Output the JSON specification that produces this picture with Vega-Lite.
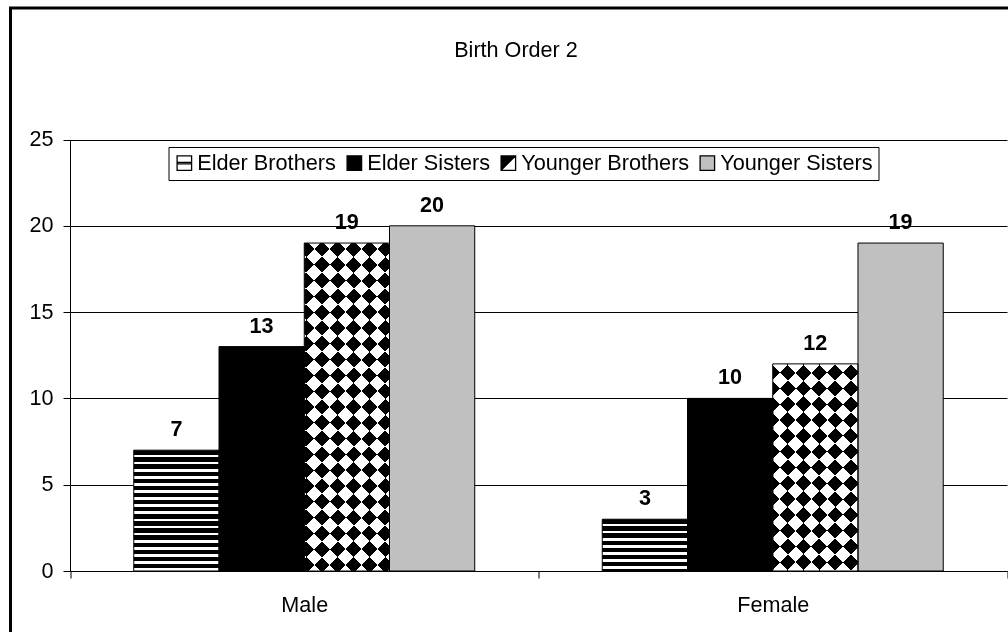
{
  "$schema": "https://vega.github.io/schema/vega-lite/v6.json",
  "width": 999,
  "height": 626,
  "autosize": {"type": "none"},
  "padding": {"left": 10.5, "top": 8, "right": -1.5, "bottom": -2},
  "background": "white",
  "view": {"stroke": "#000000", "strokeWidth": 3, "fill": "white"},
  "title": {
    "text": "Birth Order 2",
    "font": "Liberation Sans",
    "fontSize": 21.6,
    "fontWeight": "normal",
    "color": "#000000",
    "anchor": "middle",
    "frame": "group",
    "baseline": "alphabetic",
    "offset": -70.5,
    "dx": 6
  },
  "config": {
    "legend": {
      "orient": "none",
      "legendX": 158,
      "legendY": 139,
      "direction": "horizontal",
      "symbolSize": 210,
      "symbolStrokeColor": "#000000",
      "symbolStrokeWidth": 1.3,
      "symbolOpacity": 1,
      "labelFont": "Liberation Sans",
      "labelFontSize": 21.7,
      "labelColor": "#000000",
      "labelOffset": 2,
      "labelLimit": 400,
      "columnPadding": 7,
      "padding": 5,
      "strokeColor": "#000000",
      "fillColor": "white"
    }
  },
  "data": {
    "values": [
      {"gender": "Male", "series": "Elder Brothers", "count": 7},
      {"gender": "Male", "series": "Elder Sisters", "count": 13},
      {"gender": "Male", "series": "Younger Brothers", "count": 19},
      {"gender": "Male", "series": "Younger Sisters", "count": 20},
      {"gender": "Female", "series": "Elder Brothers", "count": 3},
      {"gender": "Female", "series": "Elder Sisters", "count": 10},
      {"gender": "Female", "series": "Younger Brothers", "count": 12},
      {"gender": "Female", "series": "Younger Sisters", "count": 19}
    ]
  },
  "encoding": {
    "x": {
      "field": "gender",
      "type": "nominal",
      "sort": ["Male", "Female"],
      "title": null,
      "scale": {"range": [59.5, 996.5], "paddingInner": 0, "paddingOuter": 0},
      "axis": {
        "offset": -63,
        "tickBand": "extent",
        "grid": false,
        "domainColor": "#000000",
        "tickColor": "#000000",
        "tickSize": 7,
        "labelPadding": 16,
        "labelAngle": 0,
        "labelFont": "Liberation Sans",
        "labelFontSize": 21.6,
        "labelColor": "#000000",
        "zindex": 0
      }
    },
    "xOffset": {
      "field": "series",
      "type": "nominal",
      "sort": ["Elder Brothers", "Elder Sisters", "Younger Brothers", "Younger Sisters"],
      "scale": {
        "domain": ["Elder Brothers", "Elder Sisters", "Younger Brothers", "Younger Sisters"],
        "paddingInner": 0,
        "paddingOuter": 0.748
      }
    },
    "y": {
      "field": "count",
      "type": "quantitative",
      "title": null,
      "scale": {"domain": [0, 25], "range": [563, 131.5], "nice": false, "zero": true},
      "axis": {
        "values": [0, 5, 10, 15, 20, 25],
        "offset": -59.5,
        "grid": true,
        "gridColor": "#000000",
        "gridWidth": 1,
        "domainColor": "#000000",
        "tickColor": "#000000",
        "tickSize": 7,
        "labelPadding": 10,
        "labelFont": "Liberation Sans",
        "labelFontSize": 21.6,
        "labelColor": "#000000",
        "zindex": 0
      }
    },
    "color": {
      "field": "series",
      "type": "nominal",
      "title": null,
      "scale": {
        "domain": ["Elder Brothers", "Elder Sisters", "Younger Brothers", "Younger Sisters"],
        "range": ["#ffffff", "#000000", "#ffffff", "#c0c0c0"]
      },
      "legend": {
        "encode": {
          "symbols": {
            "update": {
              "stroke": {"value": "#000000"},
              "strokeWidth": {"value": 1.3}
            }
          }
        }
      }
    }
  },
  "layer": [
    {
      "mark": {"type": "bar", "strokeWidth": 0}
    },
    {
      "mark": {"type": "point", "filled": true, "size": 0},
      "encoding": {
        "shape": {
          "field": "series",
          "type": "nominal",
          "title": null,
          "scale": {
            "domain": ["Elder Brothers", "Elder Sisters", "Younger Brothers", "Younger Sisters"],
            "range": [
              "M-1,-1H1V1H-1Z M-1,-0.1H1V0.1H-1Z",
              "square",
              "M-1,-1H1V1H-1Z M-1,1L1,-1 M-1,0.75L0.75,-1 M-1,0.5L0.5,-1 M-1,0.25L0.25,-1 M-1,0L0,-1 M-1,-0.25L-0.25,-1 M-1,-0.5L-0.5,-1 M-1,-0.75L-0.75,-1",
              "square"
            ]
          },
          "legend": {
            "encode": {
              "symbols": {
                "update": {
                  "stroke": {"value": "#000000"},
                  "strokeWidth": {"value": 1.3}
                }
              }
            }
          }
        }
      }
    },
    {
      "transform": [{"filter": "datum.series === 'Elder Brothers' && datum.gender === 'Male'"}],
      "mark": {"type": "bar", "strokeWidth": 0, "fill": {"gradient": "linear", "x1": 0, "y1": 0, "x2": 0, "y2": 1, "stops": [
        {"offset": 0, "color": "#000000"}, {"offset": 0.03647, "color": "#000000"}, {"offset": 0.03647, "color": "#ffffff"}, {"offset": 0.05882, "color": "#ffffff"},
        {"offset": 0.05882, "color": "#000000"}, {"offset": 0.09529, "color": "#000000"}, {"offset": 0.09529, "color": "#ffffff"}, {"offset": 0.11765, "color": "#ffffff"},
        {"offset": 0.11765, "color": "#000000"}, {"offset": 0.15412, "color": "#000000"}, {"offset": 0.15412, "color": "#ffffff"}, {"offset": 0.17647, "color": "#ffffff"},
        {"offset": 0.17647, "color": "#000000"}, {"offset": 0.21294, "color": "#000000"}, {"offset": 0.21294, "color": "#ffffff"}, {"offset": 0.23529, "color": "#ffffff"},
        {"offset": 0.23529, "color": "#000000"}, {"offset": 0.27176, "color": "#000000"}, {"offset": 0.27176, "color": "#ffffff"}, {"offset": 0.29412, "color": "#ffffff"},
        {"offset": 0.29412, "color": "#000000"}, {"offset": 0.33059, "color": "#000000"}, {"offset": 0.33059, "color": "#ffffff"}, {"offset": 0.35294, "color": "#ffffff"},
        {"offset": 0.35294, "color": "#000000"}, {"offset": 0.38941, "color": "#000000"}, {"offset": 0.38941, "color": "#ffffff"}, {"offset": 0.41176, "color": "#ffffff"},
        {"offset": 0.41176, "color": "#000000"}, {"offset": 0.44824, "color": "#000000"}, {"offset": 0.44824, "color": "#ffffff"}, {"offset": 0.47059, "color": "#ffffff"},
        {"offset": 0.47059, "color": "#000000"}, {"offset": 0.50706, "color": "#000000"}, {"offset": 0.50706, "color": "#ffffff"}, {"offset": 0.52941, "color": "#ffffff"},
        {"offset": 0.52941, "color": "#000000"}, {"offset": 0.56588, "color": "#000000"}, {"offset": 0.56588, "color": "#ffffff"}, {"offset": 0.58824, "color": "#ffffff"},
        {"offset": 0.58824, "color": "#000000"}, {"offset": 0.62471, "color": "#000000"}, {"offset": 0.62471, "color": "#ffffff"}, {"offset": 0.64706, "color": "#ffffff"},
        {"offset": 0.64706, "color": "#000000"}, {"offset": 0.68353, "color": "#000000"}, {"offset": 0.68353, "color": "#ffffff"}, {"offset": 0.70588, "color": "#ffffff"},
        {"offset": 0.70588, "color": "#000000"}, {"offset": 0.74235, "color": "#000000"}, {"offset": 0.74235, "color": "#ffffff"}, {"offset": 0.76471, "color": "#ffffff"},
        {"offset": 0.76471, "color": "#000000"}, {"offset": 0.80118, "color": "#000000"}, {"offset": 0.80118, "color": "#ffffff"}, {"offset": 0.82353, "color": "#ffffff"},
        {"offset": 0.82353, "color": "#000000"}, {"offset": 0.86, "color": "#000000"}, {"offset": 0.86, "color": "#ffffff"}, {"offset": 0.88235, "color": "#ffffff"},
        {"offset": 0.88235, "color": "#000000"}, {"offset": 0.91882, "color": "#000000"}, {"offset": 0.91882, "color": "#ffffff"}, {"offset": 0.94118, "color": "#ffffff"},
        {"offset": 0.94118, "color": "#000000"}, {"offset": 0.97765, "color": "#000000"}, {"offset": 0.97765, "color": "#ffffff"}, {"offset": 1, "color": "#ffffff"}
      ]}}
    },
    {
      "transform": [{"filter": "datum.series === 'Elder Brothers' && datum.gender === 'Female'"}],
      "mark": {"type": "bar", "strokeWidth": 0, "fill": {"gradient": "linear", "x1": 0, "y1": 0, "x2": 0, "y2": 1.0965, "stops": [
        {"offset": 0, "color": "#000000"}, {"offset": 0.0775, "color": "#000000"}, {"offset": 0.0775, "color": "#ffffff"}, {"offset": 0.125, "color": "#ffffff"},
        {"offset": 0.125, "color": "#000000"}, {"offset": 0.2025, "color": "#000000"}, {"offset": 0.2025, "color": "#ffffff"}, {"offset": 0.25, "color": "#ffffff"},
        {"offset": 0.25, "color": "#000000"}, {"offset": 0.3275, "color": "#000000"}, {"offset": 0.3275, "color": "#ffffff"}, {"offset": 0.375, "color": "#ffffff"},
        {"offset": 0.375, "color": "#000000"}, {"offset": 0.4525, "color": "#000000"}, {"offset": 0.4525, "color": "#ffffff"}, {"offset": 0.5, "color": "#ffffff"},
        {"offset": 0.5, "color": "#000000"}, {"offset": 0.5775, "color": "#000000"}, {"offset": 0.5775, "color": "#ffffff"}, {"offset": 0.625, "color": "#ffffff"},
        {"offset": 0.625, "color": "#000000"}, {"offset": 0.7025, "color": "#000000"}, {"offset": 0.7025, "color": "#ffffff"}, {"offset": 0.75, "color": "#ffffff"},
        {"offset": 0.75, "color": "#000000"}, {"offset": 0.8275, "color": "#000000"}, {"offset": 0.8275, "color": "#ffffff"}, {"offset": 0.875, "color": "#ffffff"},
        {"offset": 0.875, "color": "#000000"}, {"offset": 0.9525, "color": "#000000"}, {"offset": 0.9525, "color": "#ffffff"}, {"offset": 1, "color": "#ffffff"}
      ]}}
    },
    {
      "transform": [{"filter": "datum.series === 'Younger Brothers' && datum.gender === 'Male'"}],
      "mark": {"type": "bar", "strokeWidth": 0, "fill": {"gradient": "linear", "x1": 0, "y1": 0, "x2": 0.31683, "y2": 1.21864, "stops": [
        {"offset": 0, "color": "#000000"}, {"offset": 0.037037, "color": "#000000"}, {"offset": 0.037037, "color": "#ffffff"}, {"offset": 0.074074, "color": "#ffffff"},
        {"offset": 0.074074, "color": "#000000"}, {"offset": 0.111111, "color": "#000000"}, {"offset": 0.111111, "color": "#ffffff"}, {"offset": 0.148148, "color": "#ffffff"},
        {"offset": 0.148148, "color": "#000000"}, {"offset": 0.185185, "color": "#000000"}, {"offset": 0.185185, "color": "#ffffff"}, {"offset": 0.222222, "color": "#ffffff"},
        {"offset": 0.222222, "color": "#000000"}, {"offset": 0.259259, "color": "#000000"}, {"offset": 0.259259, "color": "#ffffff"}, {"offset": 0.296296, "color": "#ffffff"},
        {"offset": 0.296296, "color": "#000000"}, {"offset": 0.333333, "color": "#000000"}, {"offset": 0.333333, "color": "#ffffff"}, {"offset": 0.37037, "color": "#ffffff"},
        {"offset": 0.37037, "color": "#000000"}, {"offset": 0.407407, "color": "#000000"}, {"offset": 0.407407, "color": "#ffffff"}, {"offset": 0.444444, "color": "#ffffff"},
        {"offset": 0.444444, "color": "#000000"}, {"offset": 0.481481, "color": "#000000"}, {"offset": 0.481481, "color": "#ffffff"}, {"offset": 0.518519, "color": "#ffffff"},
        {"offset": 0.518519, "color": "#000000"}, {"offset": 0.555556, "color": "#000000"}, {"offset": 0.555556, "color": "#ffffff"}, {"offset": 0.592593, "color": "#ffffff"},
        {"offset": 0.592593, "color": "#000000"}, {"offset": 0.62963, "color": "#000000"}, {"offset": 0.62963, "color": "#ffffff"}, {"offset": 0.666667, "color": "#ffffff"},
        {"offset": 0.666667, "color": "#000000"}, {"offset": 0.703704, "color": "#000000"}, {"offset": 0.703704, "color": "#ffffff"}, {"offset": 0.740741, "color": "#ffffff"},
        {"offset": 0.740741, "color": "#000000"}, {"offset": 0.777778, "color": "#000000"}, {"offset": 0.777778, "color": "#ffffff"}, {"offset": 0.814815, "color": "#ffffff"},
        {"offset": 0.814815, "color": "#000000"}, {"offset": 0.851852, "color": "#000000"}, {"offset": 0.851852, "color": "#ffffff"}, {"offset": 0.888889, "color": "#ffffff"},
        {"offset": 0.888889, "color": "#000000"}, {"offset": 0.925926, "color": "#000000"}, {"offset": 0.925926, "color": "#ffffff"}, {"offset": 0.962963, "color": "#ffffff"},
        {"offset": 0.962963, "color": "#000000"}, {"offset": 1, "color": "#000000"}
      ]}}
    },
    {
      "transform": [{"filter": "datum.series === 'Younger Brothers' && datum.gender === 'Male'"}],
      "mark": {"type": "bar", "strokeWidth": 0, "blend": "difference", "fill": {"gradient": "linear", "x1": 0, "y1": 1, "x2": 0.31683, "y2": -0.21864, "stops": [
        {"offset": 0, "color": "#000000"}, {"offset": 0.037037, "color": "#000000"}, {"offset": 0.037037, "color": "#ffffff"}, {"offset": 0.074074, "color": "#ffffff"},
        {"offset": 0.074074, "color": "#000000"}, {"offset": 0.111111, "color": "#000000"}, {"offset": 0.111111, "color": "#ffffff"}, {"offset": 0.148148, "color": "#ffffff"},
        {"offset": 0.148148, "color": "#000000"}, {"offset": 0.185185, "color": "#000000"}, {"offset": 0.185185, "color": "#ffffff"}, {"offset": 0.222222, "color": "#ffffff"},
        {"offset": 0.222222, "color": "#000000"}, {"offset": 0.259259, "color": "#000000"}, {"offset": 0.259259, "color": "#ffffff"}, {"offset": 0.296296, "color": "#ffffff"},
        {"offset": 0.296296, "color": "#000000"}, {"offset": 0.333333, "color": "#000000"}, {"offset": 0.333333, "color": "#ffffff"}, {"offset": 0.37037, "color": "#ffffff"},
        {"offset": 0.37037, "color": "#000000"}, {"offset": 0.407407, "color": "#000000"}, {"offset": 0.407407, "color": "#ffffff"}, {"offset": 0.444444, "color": "#ffffff"},
        {"offset": 0.444444, "color": "#000000"}, {"offset": 0.481481, "color": "#000000"}, {"offset": 0.481481, "color": "#ffffff"}, {"offset": 0.518519, "color": "#ffffff"},
        {"offset": 0.518519, "color": "#000000"}, {"offset": 0.555556, "color": "#000000"}, {"offset": 0.555556, "color": "#ffffff"}, {"offset": 0.592593, "color": "#ffffff"},
        {"offset": 0.592593, "color": "#000000"}, {"offset": 0.62963, "color": "#000000"}, {"offset": 0.62963, "color": "#ffffff"}, {"offset": 0.666667, "color": "#ffffff"},
        {"offset": 0.666667, "color": "#000000"}, {"offset": 0.703704, "color": "#000000"}, {"offset": 0.703704, "color": "#ffffff"}, {"offset": 0.740741, "color": "#ffffff"},
        {"offset": 0.740741, "color": "#000000"}, {"offset": 0.777778, "color": "#000000"}, {"offset": 0.777778, "color": "#ffffff"}, {"offset": 0.814815, "color": "#ffffff"},
        {"offset": 0.814815, "color": "#000000"}, {"offset": 0.851852, "color": "#000000"}, {"offset": 0.851852, "color": "#ffffff"}, {"offset": 0.888889, "color": "#ffffff"},
        {"offset": 0.888889, "color": "#000000"}, {"offset": 0.925926, "color": "#000000"}, {"offset": 0.925926, "color": "#ffffff"}, {"offset": 0.962963, "color": "#ffffff"},
        {"offset": 0.962963, "color": "#000000"}, {"offset": 1, "color": "#000000"}
      ]}}
    },
    {
      "transform": [{"filter": "datum.series === 'Younger Brothers' && datum.gender === 'Female'"}],
      "mark": {"type": "bar", "strokeWidth": 0, "fill": {"gradient": "linear", "x1": 0, "y1": 0, "x2": 0.51023, "y2": 1.23952, "stops": [
        {"offset": 0, "color": "#000000"}, {"offset": 0.052632, "color": "#000000"}, {"offset": 0.052632, "color": "#ffffff"}, {"offset": 0.105263, "color": "#ffffff"},
        {"offset": 0.105263, "color": "#000000"}, {"offset": 0.157895, "color": "#000000"}, {"offset": 0.157895, "color": "#ffffff"}, {"offset": 0.210526, "color": "#ffffff"},
        {"offset": 0.210526, "color": "#000000"}, {"offset": 0.263158, "color": "#000000"}, {"offset": 0.263158, "color": "#ffffff"}, {"offset": 0.315789, "color": "#ffffff"},
        {"offset": 0.315789, "color": "#000000"}, {"offset": 0.368421, "color": "#000000"}, {"offset": 0.368421, "color": "#ffffff"}, {"offset": 0.421053, "color": "#ffffff"},
        {"offset": 0.421053, "color": "#000000"}, {"offset": 0.473684, "color": "#000000"}, {"offset": 0.473684, "color": "#ffffff"}, {"offset": 0.526316, "color": "#ffffff"},
        {"offset": 0.526316, "color": "#000000"}, {"offset": 0.578947, "color": "#000000"}, {"offset": 0.578947, "color": "#ffffff"}, {"offset": 0.631579, "color": "#ffffff"},
        {"offset": 0.631579, "color": "#000000"}, {"offset": 0.684211, "color": "#000000"}, {"offset": 0.684211, "color": "#ffffff"}, {"offset": 0.736842, "color": "#ffffff"},
        {"offset": 0.736842, "color": "#000000"}, {"offset": 0.789474, "color": "#000000"}, {"offset": 0.789474, "color": "#ffffff"}, {"offset": 0.842105, "color": "#ffffff"},
        {"offset": 0.842105, "color": "#000000"}, {"offset": 0.894737, "color": "#000000"}, {"offset": 0.894737, "color": "#ffffff"}, {"offset": 0.947368, "color": "#ffffff"},
        {"offset": 0.947368, "color": "#000000"}, {"offset": 1, "color": "#000000"}
      ]}}
    },
    {
      "transform": [{"filter": "datum.series === 'Younger Brothers' && datum.gender === 'Female'"}],
      "mark": {"type": "bar", "strokeWidth": 0, "blend": "difference", "fill": {"gradient": "linear", "x1": 0, "y1": 1, "x2": 0.51023, "y2": -0.23952, "stops": [
        {"offset": 0, "color": "#000000"}, {"offset": 0.052632, "color": "#000000"}, {"offset": 0.052632, "color": "#ffffff"}, {"offset": 0.105263, "color": "#ffffff"},
        {"offset": 0.105263, "color": "#000000"}, {"offset": 0.157895, "color": "#000000"}, {"offset": 0.157895, "color": "#ffffff"}, {"offset": 0.210526, "color": "#ffffff"},
        {"offset": 0.210526, "color": "#000000"}, {"offset": 0.263158, "color": "#000000"}, {"offset": 0.263158, "color": "#ffffff"}, {"offset": 0.315789, "color": "#ffffff"},
        {"offset": 0.315789, "color": "#000000"}, {"offset": 0.368421, "color": "#000000"}, {"offset": 0.368421, "color": "#ffffff"}, {"offset": 0.421053, "color": "#ffffff"},
        {"offset": 0.421053, "color": "#000000"}, {"offset": 0.473684, "color": "#000000"}, {"offset": 0.473684, "color": "#ffffff"}, {"offset": 0.526316, "color": "#ffffff"},
        {"offset": 0.526316, "color": "#000000"}, {"offset": 0.578947, "color": "#000000"}, {"offset": 0.578947, "color": "#ffffff"}, {"offset": 0.631579, "color": "#ffffff"},
        {"offset": 0.631579, "color": "#000000"}, {"offset": 0.684211, "color": "#000000"}, {"offset": 0.684211, "color": "#ffffff"}, {"offset": 0.736842, "color": "#ffffff"},
        {"offset": 0.736842, "color": "#000000"}, {"offset": 0.789474, "color": "#000000"}, {"offset": 0.789474, "color": "#ffffff"}, {"offset": 0.842105, "color": "#ffffff"},
        {"offset": 0.842105, "color": "#000000"}, {"offset": 0.894737, "color": "#000000"}, {"offset": 0.894737, "color": "#ffffff"}, {"offset": 0.947368, "color": "#ffffff"},
        {"offset": 0.947368, "color": "#000000"}, {"offset": 1, "color": "#000000"}
      ]}}
    },
    {
      "mark": {"type": "bar", "fillOpacity": 0, "stroke": "#000000", "strokeWidth": 1}
    },
    {
      "mark": {
        "type": "text",
        "baseline": "alphabetic",
        "dy": -14,
        "font": "Liberation Sans",
        "fontSize": 21.6,
        "fontWeight": "bold"
      },
      "encoding": {
        "text": {"field": "count", "type": "quantitative"},
        "color": {"value": "#000000"}
      }
    }
  ]
}
